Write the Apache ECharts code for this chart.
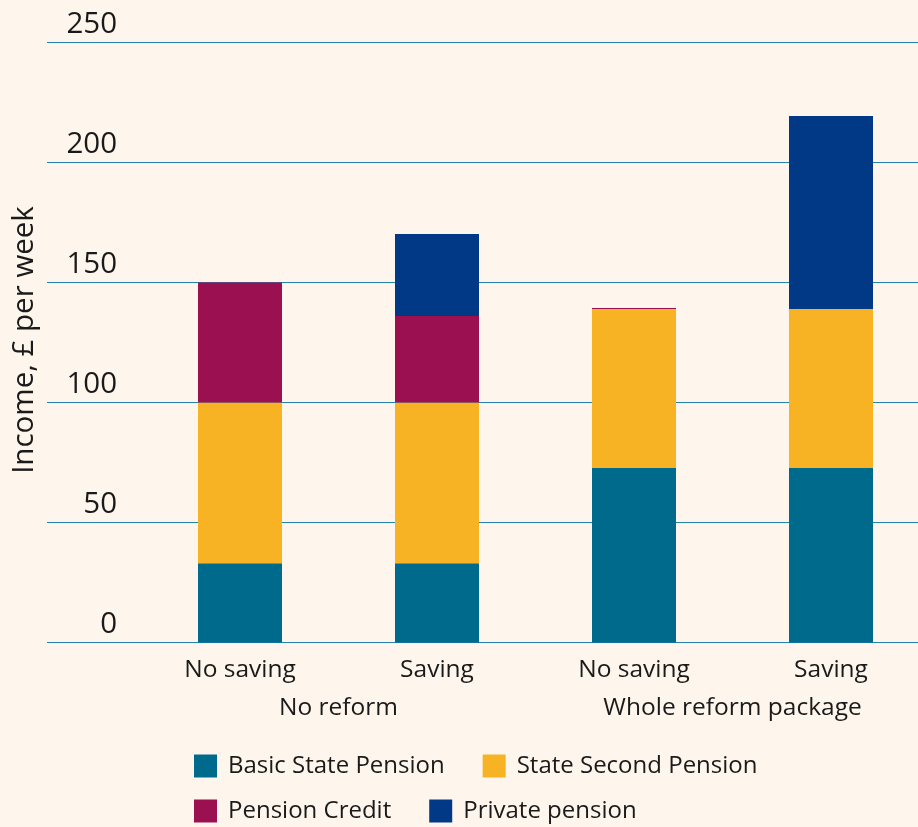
<!DOCTYPE html>
<html><head><meta charset="utf-8">
<script src="https://cdn.jsdelivr.net/npm/echarts@6/dist/echarts.min.js"></script>
<style>html,body{margin:0;padding:0;background:#fef6ec;}#c{width:918px;height:827px;}</style>
</head><body><div id="c"></div>
<script>
const categories = ['No saving', 'Saving', 'No saving', 'Saving'];
const groups = ['No reform', 'Whole reform package'];
const basicState = [33, 33, 72.7, 72.7];
const stateSecond = [67, 67, 66.3, 66.3];
const pensionCredit = [50, 36, 0.4, 0];
const privatePension = [0, 34.2, 0, 80.4];
const yTicks = [0, 50, 100, 150, 200, 250];

const font = '"Open Sans", "Noto Sans", sans-serif';
const txt = '#1a1a1a';
const chart = echarts.init(document.getElementById('c'), null, {renderer: 'canvas'});
function bar(name, data, color) {
  return {name, type: 'bar', stack: 's', xAxisIndex: 1, yAxisIndex: 1, data, barWidth: 84,
    itemStyle: {color}, emphasis: {disabled: true}};
}
chart.setOption({
  backgroundColor: '#fef6ec',
  animation: false,
  textStyle: {fontFamily: font},
  grid: [
    {left: 47, right: 0, top: 42.5, bottom: 184.5},
    {left: 240, right: 87, top: 42.5, bottom: 184.5},
    {left: 338.5, right: 185.5, top: 42.5, bottom: 184.5}
  ],
  xAxis: [
    {gridIndex: 0, type: 'value', min: 0, max: 1, show: false},
    {gridIndex: 1, type: 'category', data: categories, boundaryGap: false, axisLine: {show: false}, axisTick: {show: false},
      axisLabel: {color: txt, fontSize: 24.5, margin: 15, fontFamily: font}},
    {gridIndex: 2, type: 'category', data: groups, boundaryGap: false, position: 'bottom', offset: 38, axisLine: {show: false}, axisTick: {show: false},
      axisLabel: {color: txt, fontSize: 24.5, margin: 15, fontFamily: font}}
  ],
  yAxis: [
    {gridIndex: 0, type: 'value', min: yTicks[0], max: yTicks[yTicks.length - 1], interval: 50,
      axisLine: {show: false}, axisTick: {show: false},
      splitLine: {show: true, lineStyle: {color: '#2383a8', width: 1.2}},
      axisLabel: {inside: true, margin: 70, align: 'right', verticalAlign: 'bottom', color: txt, fontSize: 29.5, padding: [0, 0, 3, 0], fontFamily: font}},
    {gridIndex: 1, type: 'value', min: 0, max: 250, show: false},
    {gridIndex: 2, type: 'value', min: 0, max: 250, show: false}
  ],
  legend: [
    {data: ['Basic State Pension', 'State Second Pension'], left: 194, top: 754, padding: 0, itemWidth: 23, itemHeight: 23, itemGap: 38,
      icon: 'rect', textStyle: {color: txt, fontSize: 24, fontFamily: font, padding: [0, 0, 0, 6]}},
    {data: ['Pension Credit', 'Private pension'], left: 194, top: 799, padding: 0, itemWidth: 23, itemHeight: 23, itemGap: 38,
      icon: 'rect', textStyle: {color: txt, fontSize: 24, fontFamily: font, padding: [0, 0, 0, 6]}}
  ],
  graphic: [{type: 'text', x: 25, y: 340, rotation: Math.PI / 2,
    style: {text: 'Income, £ per week', fill: txt, fontSize: 29.5, fontFamily: font, align: 'center', verticalAlign: 'middle'}}],
  series: [
    bar('Basic State Pension', basicState, '#006a8c'),
    bar('State Second Pension', stateSecond, '#f7b324'),
    bar('Pension Credit', pensionCredit, '#9b1050'),
    bar('Private pension', privatePension, '#013986')
  ]
});
</script></body></html>
